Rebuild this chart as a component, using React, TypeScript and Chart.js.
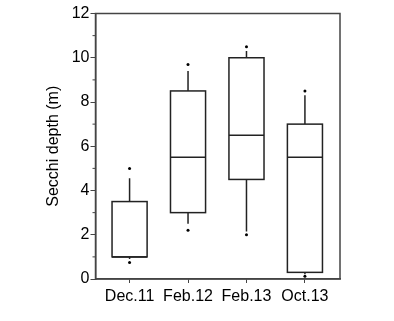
import React, { useEffect, useRef } from "react";
import { Chart, registerables } from "chart.js";

Chart.register(...registerables);

const categories = ["Dec.11", "Feb.12", "Feb.13", "Oct.13"];
const whiskerLow = [0.9, 2.5, 2.15, 0.22];
const q1 = [1.0, 3.0, 4.5, 0.3];
const median = [1.0, 5.5, 6.5, 5.5];
const q3 = [3.5, 8.5, 10.0, 7.0];
const whiskerHigh = [4.55, 9.4, 10.3, 8.3];
const outlierHigh = [5.0, 9.7, 10.5, 8.5];
const outlierLow = [0.75, 2.2, 2.0, 0.12];
const yTicks = [0, 2, 4, 6, 8, 10, 12];
const yMinorTicks = [1, 3, 5, 7, 9, 11];

const FONT = "'Liberation Sans', Arial, sans-serif";
const BOX_HALF = 0.3;

const boxPlugin = {
  id: "boxes",
  beforeDatasetsDraw(chart: any) {
    const { ctx, scales } = chart;
    const xs = scales.x;
    const ys = scales.y;
    ctx.save();
    ctx.strokeStyle = "#222";
    ctx.lineWidth = 1.5;
    categories.forEach((_, i) => {
      const xl = xs.getPixelForValue(i - BOX_HALF);
      const xr = xs.getPixelForValue(i + BOX_HALF);
      const xc = xs.getPixelForValue(i);
      const yq1 = ys.getPixelForValue(q1[i]);
      const yq3 = ys.getPixelForValue(q3[i]);
      const ym = ys.getPixelForValue(median[i]);
      const ywl = ys.getPixelForValue(whiskerLow[i]);
      const ywh = ys.getPixelForValue(whiskerHigh[i]);
      ctx.beginPath();
      ctx.moveTo(xc, yq3);
      ctx.lineTo(xc, ywh);
      ctx.moveTo(xc, yq1);
      ctx.lineTo(xc, ywl);
      ctx.stroke();
      ctx.fillStyle = "#fff";
      ctx.fillRect(xl, yq3, xr - xl, yq1 - yq3);
      ctx.strokeRect(xl, yq3, xr - xl, yq1 - yq3);
      ctx.beginPath();
      ctx.moveTo(xl, ym);
      ctx.lineTo(xr, ym);
      ctx.stroke();
    });
    ctx.restore();
  },
  afterDraw(chart: any) {
    const { ctx, scales, chartArea } = chart;
    const ys = scales.y;
    ctx.save();
    ctx.strokeStyle = "#444";
    ctx.lineWidth = 1.5;
    ctx.strokeRect(chartArea.left, chartArea.top, chartArea.right - chartArea.left, chartArea.bottom - chartArea.top);
    ctx.lineWidth = 1;
    ctx.beginPath();
    yMinorTicks.forEach((v) => {
      const y = ys.getPixelForValue(v);
      ctx.moveTo(chartArea.left - 3, y);
      ctx.lineTo(chartArea.left, y);
    });
    ctx.stroke();
    ctx.restore();
  },
};

export default function App() {
  const ref = useRef<HTMLCanvasElement>(null);
  useEffect(() => {
    if (!ref.current) return;
    const points = [
      ...outlierHigh.map((v, i) => ({ x: i, y: v })),
      ...outlierLow.map((v, i) => ({ x: i, y: v })),
    ];
    const chart = new Chart(ref.current, {
      type: "scatter",
      data: {
        datasets: [
          {
            data: points,
            pointRadius: 1.5,
            pointBackgroundColor: "#000",
            pointBorderWidth: 0,
            pointHoverRadius: 1.5,
          },
        ],
      },
      options: {
        responsive: false,
        animation: false,
        events: [],
        layout: { padding: { left: 40, top: 13.5, right: 54, bottom: 0 } },
        plugins: { legend: { display: false }, tooltip: { enabled: false } },
        scales: {
          x: {
            type: "linear",
            min: -0.583,
            max: 3.6,
            afterBuildTicks: (s: any) => {
              s.ticks = categories.map((_, i) => ({ value: i }));
            },
            afterFit: (s: any) => {
              s.height = 42;
            },
            ticks: {
              autoSkip: false,
              maxRotation: 0,
              padding: 4,
              color: "#000",
              font: { family: FONT, size: 16 },
              callback: (v: any) => categories[v as number] ?? "",
            },
            grid: { drawOnChartArea: false, tickLength: 4, color: "#444", lineWidth: 1 },
            border: { color: "#444", width: 1.5 },
          },
          y: {
            min: 0,
            max: 12,
            afterBuildTicks: (s: any) => {
              s.ticks = yTicks.map((v) => ({ value: v }));
            },
            afterFit: (s: any) => {
              s.width = 55.5;
            },
            ticks: {
              padding: 1,
              color: "#000",
              font: { family: FONT, size: 16 },
            },
            grid: { drawOnChartArea: false, tickLength: 5, color: "#444", lineWidth: 1 },
            border: { color: "#444", width: 1.5 },
            title: {
              display: true,
              text: "Secchi depth (m)",
              color: "#000",
              font: { family: FONT, size: 16 },
              padding: { top: 4, bottom: 4 },
            },
          },
        },
      },
      plugins: [boxPlugin],
    });
    return () => chart.destroy();
  }, []);
  return (
    <div style={{ position: "absolute", left: 0, top: 0, width: 394, height: 321, background: "#fff" }}>
      <canvas ref={ref} width={394} height={321} />
    </div>
  );
}
